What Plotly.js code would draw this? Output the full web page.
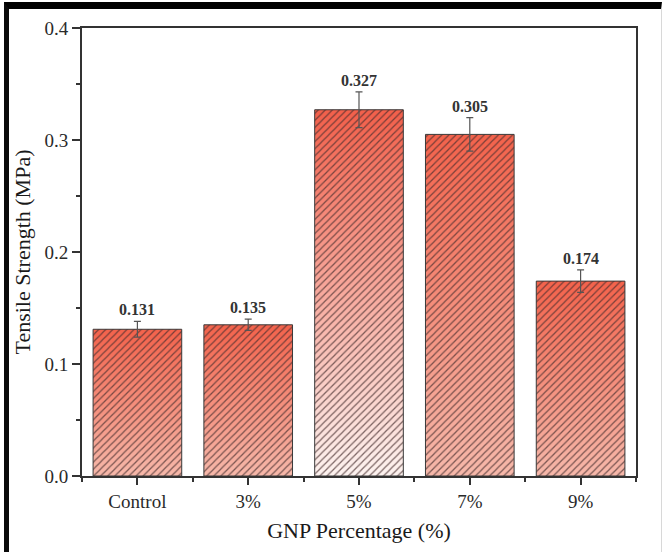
<!DOCTYPE html>
<html>
<head>
<meta charset="utf-8">
<script src="https://cdn.plot.ly/plotly-3.0.1.min.js"></script>
<style>
  html, body { margin: 0; padding: 0; background: #fff; }
  #chart { width: 662px; height: 552px; position: absolute; left: 0; top: 0; }
  #frame { position: absolute; left: 4px; top: 2px; width: 652px; height: 543px;
           border-top: 7px solid #000; border-left: 5px solid #0a0a0a;
           border-bottom: 3px solid #a8a8a8; border-right: 1px solid #d8d8d8;
           pointer-events: none; }
</style>
</head>
<body>
<div id="chart"></div>
<div id="frame"></div>
<script>
// ---- data ----
const categories = ["Control", "3%", "5%", "7%", "9%"];
const strength   = [0.131, 0.135, 0.327, 0.305, 0.174];
const errors     = [0.007, 0.005, 0.016, 0.015, 0.010];
const valueLabels = ["0.131", "0.135", "0.327", "0.305", "0.174"];

// ---- styles ----
const gradTop    = ["#f3624b", "#f3624b", "#f25f4a", "#f3624b", "#f3624b"];
const gradBottom = ["#f6b8aa", "#f6b8aa", "#fdf3f0", "#f6b8aa", "#f6b8aa"];

const xIdx = categories.map((_, i) => i);
const serif = "Liberation Serif, Times New Roman, serif";

const fillTrace = {
  type: "bar", x: xIdx, y: strength, width: 0.8,
  marker: { color: "#f3624b", line: { width: 0 } },
  hoverinfo: "skip", showlegend: false
};
const hatchTrace = {
  type: "bar", x: xIdx, y: strength, width: 0.8,
  marker: {
    color: "rgba(0,0,0,0)",
    line: { color: "#3a3a3a", width: 1 },
    pattern: { shape: "/", fgcolor: "rgba(70,45,45,0.7)", bgcolor: "rgba(0,0,0,0)", size: 5, solidity: 0.25 }
  },
  error_y: { type: "data", array: errors, visible: true, color: "#555", thickness: 1.2, width: 3.5 },
  hoverinfo: "skip", showlegend: false
};

const annotations = categories.map((c, i) => ({
  x: i, y: strength[i] + errors[i], xref: "x", yref: "y",
  text: "<b>" + valueLabels[i] + "</b>", showarrow: false, yanchor: "bottom", yshift: 1,
  font: { family: serif, size: 16, color: "#333" }
}));

const layout = {
  width: 662, height: 552,
  margin: { l: 82, r: 26, t: 28, b: 76 },
  paper_bgcolor: "#fff", plot_bgcolor: "#fff",
  barmode: "overlay",
  showlegend: false,
  font: { family: serif, color: "#333" },
  xaxis: {
    range: [-0.5, 4.5], tickmode: "array", tickvals: xIdx, ticktext: categories,
    ticks: "outside", ticklen: 7, tickwidth: 2, tickcolor: "#333",
    showline: true, linecolor: "#333", linewidth: 2, mirror: true,
    showgrid: false, zeroline: false,
    minor: { ticks: "outside", ticklen: 4, tickwidth: 2, tickcolor: "#333", tick0: 0.5, dtick: 1, showgrid: false },
    tickfont: { family: serif, size: 19, color: "#2a2a2a" },
    title: { text: "GNP Percentage (%)", font: { family: serif, size: 22, color: "#1a1a1a" }, standoff: 12 }
  },
  yaxis: {
    range: [0, 0.4], tickmode: "linear", tick0: 0, dtick: 0.1, tickformat: ".1f",
    ticks: "outside", ticklen: 8, tickwidth: 2, tickcolor: "#333",
    showline: true, linecolor: "#333", linewidth: 2, mirror: true,
    showgrid: false, zeroline: false,
    minor: { ticks: "outside", ticklen: 4, tickwidth: 2, tickcolor: "#333", dtick: 0.05, showgrid: false },
    tickfont: { family: serif, size: 19, color: "#2a2a2a" },
    title: { text: "Tensile Strength (MPa)", font: { family: serif, size: 22, color: "#1a1a1a" }, standoff: 8 }
  },
  annotations: annotations
};

Plotly.newPlot("chart", [fillTrace, hatchTrace], layout, { displayModeBar: false, staticPlot: true }).then(gd => {
  const svg = gd.querySelector("svg.main-svg");
  let defs = svg.querySelector("defs");
  if (!defs) { defs = document.createElementNS("http://www.w3.org/2000/svg", "defs"); svg.insertBefore(defs, svg.firstChild); }
  const ns = "http://www.w3.org/2000/svg";
  categories.forEach((c, i) => {
    const lg = document.createElementNS(ns, "linearGradient");
    lg.setAttribute("id", "barGrad" + i);
    lg.setAttribute("x1", "0"); lg.setAttribute("y1", "0");
    lg.setAttribute("x2", "0"); lg.setAttribute("y2", "1");
    const s1 = document.createElementNS(ns, "stop");
    s1.setAttribute("offset", "0"); s1.setAttribute("stop-color", gradTop[i]);
    const s2 = document.createElementNS(ns, "stop");
    s2.setAttribute("offset", "1"); s2.setAttribute("stop-color", gradBottom[i]);
    lg.appendChild(s1); lg.appendChild(s2);
    defs.appendChild(lg);
  });
  const traces = gd.querySelectorAll(".barlayer .trace");
  const paths = traces[0].querySelectorAll(".point path");
  paths.forEach((p, i) => { p.style.fill = "url(#barGrad" + i + ")"; p.style.fillOpacity = 1; });
});
</script>
</body>
</html>
